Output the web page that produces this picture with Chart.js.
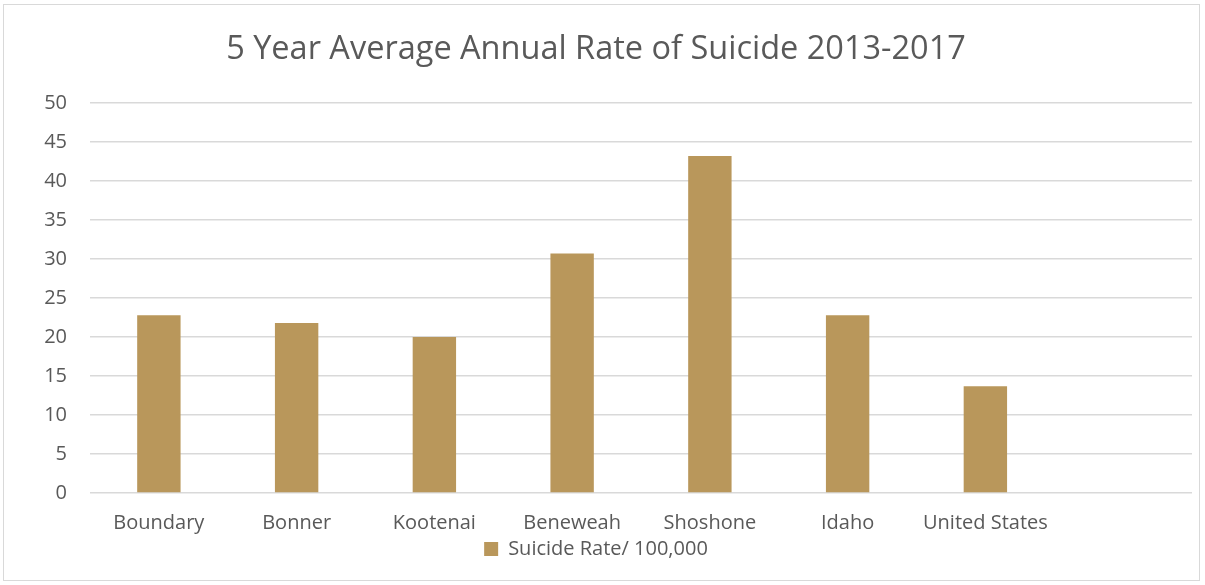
<!DOCTYPE html>
<html>
<head>
<meta charset="utf-8">
<script src="https://cdn.jsdelivr.net/npm/chart.js@4/dist/chart.umd.min.js"></script>
<style>
  html, body { margin: 0; padding: 0; background: #ffffff; }
  #wrap { position: absolute; left: 3px; top: 4px; width: 1197px; height: 577px; border: 1px solid #d9d9d9; box-sizing: border-box; }
  #c { position: absolute; left: 0; top: 0; }
</style>
</head>
<body>
<div id="wrap"></div>
<canvas id="c" width="1205" height="585"></canvas>
<script>
const categories = ["Boundary", "Bonner", "Kootenai", "Beneweah", "Shoshone", "Idaho", "United States", ""];
const suicideRate = [22.8, 21.8, 20.0, 30.7, 43.2, 22.8, 13.7, null];
const seriesName = "Suicide Rate/ 100,000";
const yTicks = [0, 5, 10, 15, 20, 25, 30, 35, 40, 45, 50];

const textColor = "#595959";
const fontFamily = "'Open Sans', 'Noto Sans', sans-serif";

new Chart(document.getElementById("c"), {
  type: "bar",
  data: {
    labels: categories,
    datasets: [{
      label: seriesName,
      data: suicideRate,
      backgroundColor: "#B9975B",
      borderWidth: 0,
      categoryPercentage: 1.0,
      barPercentage: 0.315
    }]
  },
  options: {
    responsive: false,
    animation: false,
    devicePixelRatio: 1,
    layout: { padding: { left: 0, right: 13, top: 0, bottom: 16 } },
    plugins: {
      title: {
        display: true,
        text: "5 Year Average Annual Rate of Suicide 2013-2017",
        color: textColor,
        font: { family: fontFamily, size: 32.5, weight: "normal" },
        padding: { top: 30, bottom: 34 }
      },
      legend: {
        display: true,
        position: "bottom",
        labels: {
          color: textColor,
          font: { family: fontFamily, size: 20 },
          boxWidth: 14,
          boxHeight: 14,
          padding: 4
        }
      },
      tooltip: { enabled: false }
    },
    scales: {
      x: {
        clip: false,
        grid: { display: false, drawTicks: false },
        border: { display: false },
        afterFit: (axis) => { axis.height = 42; },
        ticks: {
          color: textColor,
          font: { family: fontFamily, size: 20 },
          padding: 18,
          maxRotation: 0,
          autoSkip: false
        }
      },
      y: {
        min: 0,
        max: 50,
        afterBuildTicks: (axis) => { axis.ticks = yTicks.map(v => ({ value: v })); },
        afterFit: (axis) => { axis.width = 90; },
        grid: { color: "#d9d9d9", lineWidth: 1.5, drawTicks: false },
        border: { display: false },
        ticks: {
          color: textColor,
          font: { family: fontFamily, size: 20 },
          padding: 23
        }
      }
    }
  }
});
</script>
</body>
</html>
